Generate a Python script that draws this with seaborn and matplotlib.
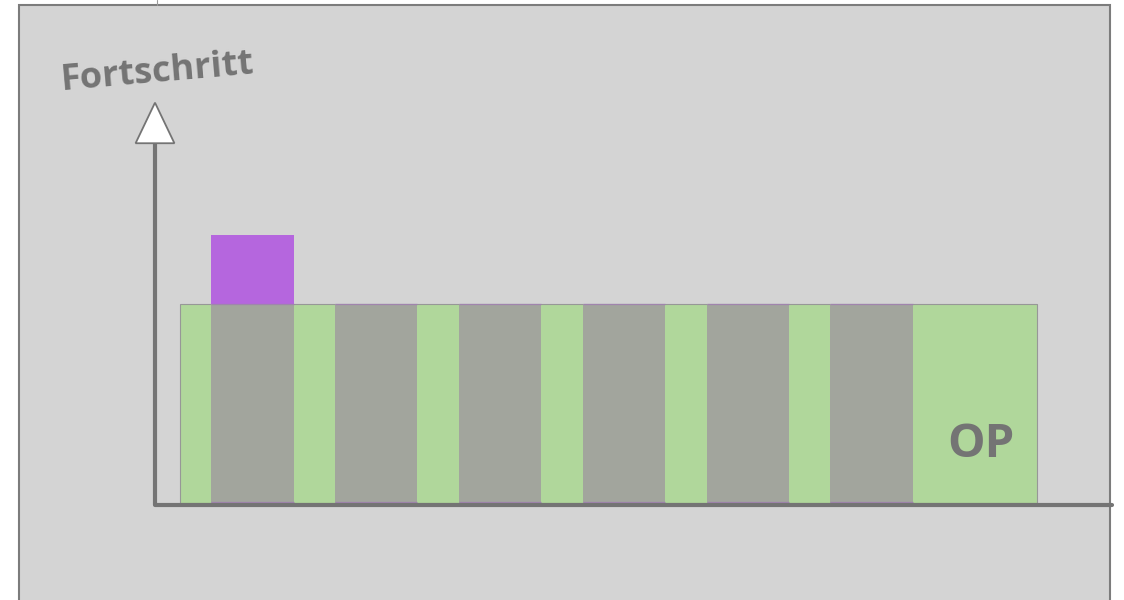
import numpy as np
import matplotlib
matplotlib.use("Agg")
import matplotlib.pyplot as plt
from matplotlib.patches import Rectangle, Polygon
from matplotlib.lines import Line2D
import seaborn as sns

# schematic: green base = whole process, grey = single steps, purple = overshoot
segment_kind = ["gap", "step", "gap", "step", "gap", "step", "gap",
                "step", "gap", "step", "gap", "step", "op"]
segment_width = [0.75, 2, 1, 2, 1, 2, 1, 2, 1, 2, 1, 2, 3]
base_height = 3.0
extra_height = 1.03
axis_label = "Fortschritt"
op_label = "OP"

GREEN = "#b0d79b"
GREY = "#a2a59d"
PURPLE = "#b566de"
BG = "#d4d4d4"
AXC = "#747474"

sns.set_style("white")
plt.rcParams["font.family"] = ["Open Sans", "DejaVu Sans"]

fig = plt.figure(figsize=(11.24, 6), dpi=100)
fig.patch.set_facecolor("white")
fig.patches.append(Rectangle((19 / 1124, -0.01), 1091 / 1124, 0.9917 + 0.01,
                             transform=fig.transFigure, facecolor=BG,
                             edgecolor="#7c7c7c", lw=1.5, zorder=-1))
fig.lines.append(Line2D([157 / 1124, 157 / 1124], [0.9917, 1.0],
                        transform=fig.transFigure, color="#9a9a9a", lw=0.8))

ax = fig.add_axes([0, 0, 1, 1])
ax.set_zorder(1)
ax.set_facecolor("none")
ax.axis("off")

# pixel-ish mapping of the schematic
ax.set_xlim(-180 / 41.3, (1124 - 180) / 41.3)
ax.set_ylim(-97 / 66.5, 503 / 66.5)

lefts = np.concatenate([[0], np.cumsum(segment_width)[:-1]])
widths = np.array(segment_width)
kinds = np.array(segment_kind)
total = widths.sum()

# green base block
ax.bar(0, base_height, width=total, align="edge", color=GREEN,
       edgecolor="#979797", linewidth=0.8, zorder=2)

# grey steps
steps = kinds == "step"
ax.bar(lefts[steps], base_height, width=widths[steps], align="edge",
       color=GREY, linewidth=0, zorder=3)
for l, w in zip(lefts[steps], widths[steps]):
    ax.hlines([0.02, base_height], l, l + w, color="#a084ad", lw=0.9, zorder=4)

# purple overshoot on first step
ax.bar(lefts[steps][0], extra_height, bottom=base_height,
       width=widths[steps][0], align="edge", color=PURPLE, linewidth=0, zorder=3)

# axes with arrow
x0 = -25 / 41.3
y0 = -2 / 66.5
ax.plot([x0, (1112 - 180) / 41.3], [y0, y0], color=AXC, lw=3,
        solid_capstyle="round", zorder=5)
ax.plot([x0, x0], [y0, 5.45], color=AXC, lw=3, solid_capstyle="butt", zorder=5)
head = Polygon([[x0 - 0.47, 5.41], [x0 + 0.47, 5.41], [x0, 6.02]],
               closed=True, facecolor="white", edgecolor=AXC, lw=1.3, zorder=6)
ax.add_patch(head)

ax.text(x0 + 0.05, 6.47, axis_label, rotation=5, ha="center", va="center",
        fontsize=26, fontweight="bold", color=AXC)

op_i = np.where(kinds == "op")[0][0]
ax.text(lefts[op_i] + widths[op_i] / 2 + 0.15, 0.88, op_label, ha="center",
        va="center", fontsize=34, fontweight="bold", color=AXC, zorder=6)

fig.savefig("out.png", dpi=100)
